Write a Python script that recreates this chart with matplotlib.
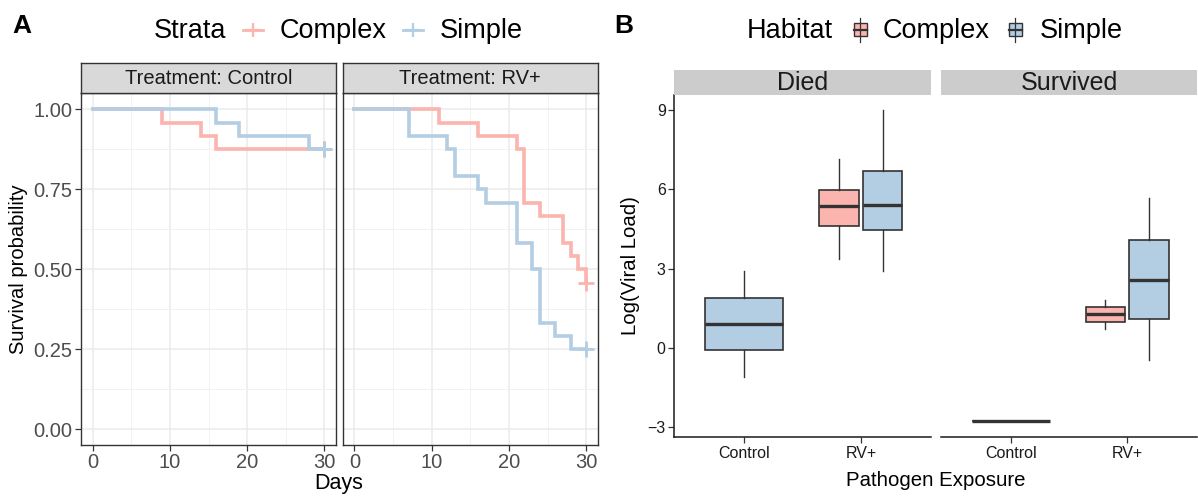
import matplotlib
matplotlib.use("Agg")
import matplotlib.pyplot as plt
from matplotlib.lines import Line2D
from matplotlib.patches import Rectangle

plt.rcParams['font.family'] = ['Liberation Sans', 'DejaVu Sans']

W, H = 1198, 497

# ---------------- data ----------------
strata = ["Complex", "Simple"]
treatments = ["Control", "RV+"]

ctrl_complex_t = [0, 9, 14, 16, 30]
ctrl_complex_s = [1.0, 0.958, 0.917, 0.875, 0.875]
ctrl_simple_t = [0, 16, 19, 28, 30]
ctrl_simple_s = [1.0, 0.958, 0.917, 0.875, 0.875]
rv_complex_t = [0, 11, 16, 21, 22, 24, 27, 28, 29, 30]
rv_complex_s = [1.0, 0.958, 0.917, 0.875, 0.708, 0.667, 0.583, 0.542, 0.500, 0.458]
rv_simple_t = [0, 7, 12, 13, 16, 17, 21, 23, 24, 26, 28, 30]
rv_simple_s = [1.0, 0.917, 0.875, 0.792, 0.750, 0.708, 0.583, 0.500, 0.333, 0.292, 0.250, 0.250]
censor_time = 30

day_ticks = [0, 10, 20, 30]
surv_ticks = [0.0, 0.25, 0.5, 0.75, 1.0]
surv_tick_labels = ["0.00", "0.25", "0.50", "0.75", "1.00"]

outcomes = ["Died", "Survived"]
exposures = ["Control", "RV+"]
# five-number summaries: whislo, q1, median, q3, whishi
died_control_simple = [-1.08, -0.09, 0.91, 1.90, 2.90]
died_rv_complex = [3.38, 4.63, 5.36, 5.99, 7.15]
died_rv_simple = [2.90, 4.46, 5.41, 6.71, 9.00]
surv_control_simple = [-2.76, -2.76, -2.76, -2.76, -2.76]
surv_rv_complex = [0.72, 1.00, 1.27, 1.55, 1.82]
surv_rv_simple = [-0.45, 1.08, 2.57, 4.07, 5.67]
viral_ticks = [-3, 0, 3, 6, 9]

# ---------------- styles ----------------
col = {"Complex": "#FBB4AE", "Simple": "#B3CDE3"}
dark = "#333333"

fig = plt.figure(figsize=(W / 100, H / 100), dpi=100)


def add_ax(x0, x1, y0, y1):
    return fig.add_axes([x0 / W, 1 - y1 / H, (x1 - x0) / W, (y1 - y0) / H])


def fx(x):
    return x / W


def fy(y):
    return 1 - y / H


# ---------------- Panel A ----------------
km = {
    "Control": [(ctrl_complex_t, ctrl_complex_s, "Complex"), (ctrl_simple_t, ctrl_simple_s, "Simple")],
    "RV+": [(rv_complex_t, rv_complex_s, "Complex"), (rv_simple_t, rv_simple_s, "Simple")],
}
a_panels = [(81.0, 336.0), (342.9, 597.8)]
for i, tr in enumerate(treatments):
    x0, x1 = a_panels[i]
    ax = add_ax(x0, x1, 93.3, 445)
    ax.set_xlim(-1.5, 31.5)
    ax.set_ylim(-0.05, 1.05)
    ax.set_xticks(day_ticks)
    ax.set_xticks([5, 15, 25], minor=True)
    ax.set_yticks(surv_ticks)
    ax.set_yticks([0.125, 0.375, 0.625, 0.875], minor=True)
    ax.grid(True, which="major", color="#EBEBEB", lw=1.1)
    ax.grid(True, which="minor", color="#F2F2F2", lw=0.7)
    ax.set_axisbelow(True)
    for s in ax.spines.values():
        s.set_color(dark)
        s.set_linewidth(1.0)
    ax.tick_params(which="minor", length=0)
    ax.tick_params(which="major", length=4, width=0.9, color=dark, labelsize=14.5,
                   labelcolor="#4D4D4D", pad=2)
    ax.set_xticklabels([str(d) for d in day_ticks])
    if i == 0:
        ax.set_yticklabels(surv_tick_labels)
    else:
        ax.tick_params(axis="y", left=False, labelleft=False)
    for t, s, g in km[tr]:
        ax.step(t, s, where="post", color=col[g], lw=2.6, solid_joinstyle="miter")
        ax.plot([censor_time], [s[-1]], marker="+", ms=11, mew=2, color=col[g], ls="none")
    # strip
    sax = add_ax(x0, x1, 62.7, 93.3)
    sax.set_xticks([]); sax.set_yticks([])
    sax.set_facecolor("#D9D9D9")
    for s in sax.spines.values():
        s.set_color(dark)
        s.set_linewidth(1.0)
    sax.text(0.5, 0.47, "Treatment: " + tr, ha="center", va="center", fontsize=14.5,
             color="#1A1A1A", transform=sax.transAxes)

fig.text(fx(19), fy(269), "Survival probability", rotation=90, ha="center", va="center", fontsize=14.5)
fig.text(fx(339), fy(484), "Days", ha="center", va="center", fontsize=15.5)
fig.text(fx(12), fy(33), "A", fontsize=19, fontweight="bold", ha="left", va="baseline")

# legend A
fig.text(fx(154), fy(37.5), "Strata", fontsize=19.5, va="baseline", ha="left")
for xc, g, xt in [(253, "Complex", 280), (413, "Simple", 440)]:
    fig.add_artist(Line2D([fx(xc - 10), fx(xc + 10)], [fy(30), fy(30)], color=col[g], lw=2.0,
                          transform=fig.transFigure))
    fig.add_artist(Line2D([fx(xc)], [fy(30)], marker="+", ms=10, mew=1.6, color=col[g],
                          transform=fig.transFigure))
    fig.text(fx(xt), fy(37.5), g, fontsize=19.5, va="baseline", ha="left")

# ---------------- Panel B ----------------
b_data = {
    "Died": [("Control", "Simple", died_control_simple, 0.0, 0.67),
             ("RV+", "Complex", died_rv_complex, -0.187, 0.337),
             ("RV+", "Simple", died_rv_simple, 0.187, 0.337)],
    "Survived": [("Control", "Simple", surv_control_simple, 0.0, 0.67),
                 ("RV+", "Complex", surv_rv_complex, -0.187, 0.337),
                 ("RV+", "Simple", surv_rv_simple, 0.187, 0.337)],
}
b_panels = [(674, 931), (941, 1197)]
for i, oc in enumerate(outcomes):
    x0, x1 = b_panels[i]
    ax = add_ax(x0, x1, 94.5, 436.6)
    ax.set_xlim(-0.6, 1.6)
    ax.set_ylim(-3.35, 9.59)
    for exp, g, v, off, w in b_data[oc]:
        st = dict(whislo=v[0], q1=v[1], med=v[2], q3=v[3], whishi=v[4], fliers=[])
        pos = exposures.index(exp) + off
        ax.bxp([st], positions=[pos], widths=[w], patch_artist=True, showcaps=False,
               showfliers=False,
               boxprops=dict(facecolor=col[g], edgecolor=dark, linewidth=1.2),
               medianprops=dict(color=dark, linewidth=2.4, solid_capstyle="butt"),
               whiskerprops=dict(color=dark, linewidth=1.0))
    ax.set_xticks(range(len(exposures)))
    ax.set_xticklabels(exposures)
    ax.set_xlim(-0.6, 1.6)
    ax.spines["top"].set_visible(False)
    ax.spines["right"].set_visible(False)
    ax.spines["bottom"].set_color("#1A1A1A")
    ax.spines["bottom"].set_linewidth(1.1)
    ax.tick_params(axis="x", length=4, width=0.9, color=dark, labelsize=11.5, labelcolor="#1A1A1A", pad=3)
    if i == 0:
        ax.set_yticks(viral_ticks)
        ax.set_yticklabels(["\u22123", "0", "3", "6", "9"])
        ax.spines["left"].set_color("#1A1A1A")
        ax.spines["left"].set_linewidth(1.1)
        ax.tick_params(axis="y", length=4, width=0.9, color=dark, labelsize=11.5, labelcolor="#1A1A1A", pad=2)
    else:
        ax.spines["left"].set_visible(False)
        ax.set_yticks([])
    # strip
    sax = add_ax(x0, x1, 69.5, 94.5)
    sax.set_xticks([]); sax.set_yticks([])
    sax.set_facecolor("#CCCCCC")
    for s in sax.spines.values():
        s.set_visible(False)
    sax.text(0.5, 0.45, oc, ha="center", va="center", fontsize=18, color="#1A1A1A",
             transform=sax.transAxes)

fig.text(fx(630), fy(266), "Log(Viral Load)", rotation=90, ha="center", va="center", fontsize=14.7)
fig.text(fx(936), fy(480), "Pathogen Exposure", ha="center", va="center", fontsize=14.7)
fig.text(fx(614), fy(33), "B", fontsize=19, fontweight="bold", ha="left", va="baseline")

# legend B
fig.text(fx(747), fy(37.5), "Habitat", fontsize=19.5, va="baseline", ha="left")
for xc, g, xt in [(860, "Complex", 883), (1015, "Simple", 1040)]:
    fig.add_artist(Line2D([fx(xc), fx(xc)], [fy(18), fy(42)], color=dark, lw=0.9,
                          transform=fig.transFigure))
    fig.add_artist(Rectangle((fx(xc - 6.5), fy(36)), fx(13), 13 / H, facecolor=col[g],
                             edgecolor=dark, lw=1.0, transform=fig.transFigure))
    fig.add_artist(Line2D([fx(xc - 6.5), fx(xc + 6.5)], [fy(29.5), fy(29.5)], color=dark, lw=1.6,
                          transform=fig.transFigure))
    fig.text(fx(xt), fy(37.5), g, fontsize=19.5, va="baseline", ha="left")

fig.savefig("out.png", dpi=100)
